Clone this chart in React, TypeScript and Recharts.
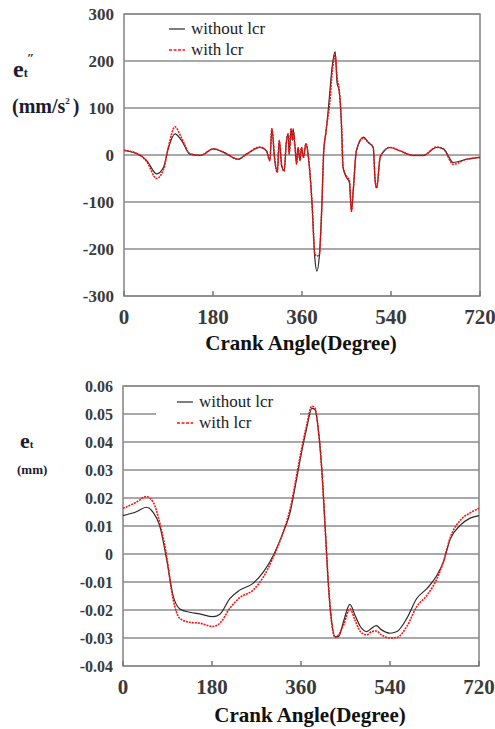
import {
  CartesianGrid,
  Legend,
  Line,
  LineChart,
  ReferenceArea,
  XAxis,
  YAxis,
} from "recharts";

const angleTicks = [0, 180, 360, 540, 720];
const accelTicks = [-300, -200, -100, 0, 100, 200, 300];
const dispTicks = [-0.04, -0.03, -0.02, -0.01, 0, 0.01, 0.02, 0.03, 0.04, 0.05, 0.06];

const accelAngles = [
  0, 32, 46, 66, 80, 90, 103, 117, 133, 154, 181, 201, 231, 248, 275, 288,
  295, 299, 305, 310, 314, 319, 324, 328, 332, 334, 338, 341, 342, 346, 349,
  352, 356, 359, 363, 368, 373, 380, 386, 390, 395, 400, 404, 408, 413, 416,
  421, 427, 431, 435, 440, 443, 450, 456, 460, 464, 470, 484, 494, 504, 508,
  511, 518, 524, 538, 558, 585, 605, 632, 646, 666, 693, 720,
];
const accelWithout = [
  10, 0, -12, -40, -26, 16, 45, 30, 2, -1, 13, 6, -9, 2, 16, 9,
  -12, 56, -12, -37, 31, -23, -34, 24, 45, 2, 56, 31, 56, 16, -19,
  16, -12, 16, -5, 24, -5, -98, -220, -247, -216, -112, 9, 45, 95, 131,
  188, 220, 153, 138, 60, -26, -48, -59, -120, -70, 9, 38, 27, 16, -55,
  -70, -5, 6, 16, 9, -1, -1, 16, 13, -16, -9, -5,
];
const accelWith = [
  10, 0, -14, -50, -30, 18, 60, 35, 3, -1, 13, 6, -9, 2, 17, 9,
  -12, 56, -12, -37, 31, -23, -34, 24, 45, 2, 56, 31, 50, 16, -19,
  16, -12, 16, -5, 24, -5, -98, -210, -215, -212, -112, 9, 45, 85, 110,
  175, 212, 165, 140, 60, -26, -45, -55, -120, -70, 9, 36, 27, 16, -55,
  -70, -5, 6, 16, 9, -1, -1, 17, 13, -20, -9, -5,
];

const dispAngles = [
  0, 27, 47, 61, 74, 88, 101, 115, 135, 155, 182, 196, 216, 236, 263, 284,
  304, 324, 338, 351, 361, 371, 382, 388, 395, 402, 409, 415, 422, 429, 436,
  446, 459, 469, 480, 493, 503, 512, 523, 540, 554, 574, 594, 615, 635, 648,
  662, 682, 702, 720,
];
const dispWithout = [
  0.0137, 0.0151, 0.0167, 0.0149, 0.0102, -0.0017, -0.0147, -0.0196, -0.0208,
  -0.0214, -0.0224, -0.0215, -0.0159, -0.0129, -0.0105, -0.0064, -0.0005,
  0.0078, 0.0149, 0.0267, 0.0362, 0.0445, 0.052, 0.0516, 0.0445, 0.0303,
  0.009, -0.0099, -0.0241, -0.0295, -0.0295, -0.0241, -0.018, -0.0218,
  -0.0259, -0.0277, -0.0265, -0.0256, -0.0271, -0.0283, -0.0277, -0.023,
  -0.0159, -0.0123, -0.0076, -0.0028, 0.0054, 0.0102, 0.0128, 0.0137,
];
const dispWith = [
  0.0163, 0.0185, 0.0205, 0.0185, 0.0114, -0.0005, -0.0159, -0.023, -0.0244,
  -0.0247, -0.0259, -0.0247, -0.0194, -0.0156, -0.0129, -0.0082, -0.0011,
  0.0078, 0.0161, 0.0279, 0.0374, 0.0457, 0.0528, 0.0522, 0.0445, 0.0303,
  0.009, -0.0099, -0.0247, -0.0298, -0.0288, -0.0254, -0.0196, -0.0235,
  -0.0277, -0.0289, -0.0277, -0.0275, -0.0289, -0.03, -0.0298, -0.0259,
  -0.0188, -0.0147, -0.0088, -0.0028, 0.006, 0.012, 0.0147, 0.0163,
];

const serif = "Liberation Serif, DejaVu Serif, serif";
const blackLine = "#2a2a2a";
const redLine = "#ff1010";

const accelData = accelAngles.map((angle, i) => ({
  angle,
  without: accelWithout[i],
  with: accelWith[i],
}));

const dispData = dispAngles.map((angle, i) => ({
  angle,
  without: dispWithout[i],
  with: dispWith[i],
}));

function LegendBox({ inset }: { inset: number }) {
  const row = (label: string, color: string, dashed: boolean) => (
    <div style={{ display: "flex", alignItems: "center", height: 21 }}>
      <svg width={16} height={4} style={{ marginRight: 6 }}>
        <line
          x1={0}
          y1={2}
          x2={16}
          y2={2}
          stroke={color}
          strokeWidth={dashed ? 1.6 : 1.2}
          strokeDasharray={dashed ? "3 1.5" : undefined}
        />
      </svg>
      <span style={{ fontFamily: serif, fontSize: 17, color: "#222" }}>{label}</span>
    </div>
  );
  return (
    <div style={{ background: "#fff", paddingLeft: inset, width: 144 - inset }}>
      {row("without lcr", blackLine, false)}
      {row("with lcr", redLine, true)}
    </div>
  );
}

const tickStyle = { fontFamily: serif, fontWeight: 700, fill: "#3a3a3a" };

export default function App() {
  return (
    <div style={{ position: "absolute", left: 0, top: 0, width: 495, height: 729, background: "#fff", fontFamily: serif }}>
      {/* upper chart: acceleration */}
      <div style={{ position: "absolute", left: 0, top: 0 }}>
        <LineChart
          width={495}
          height={360}
          data={accelData}
          margin={{ top: 14, right: 15, bottom: 24, left: 0 }}
          style={{ fontFamily: serif }}
        >
          <CartesianGrid vertical={false} stroke="#555" strokeWidth={1.2} />
          <XAxis
            dataKey="angle"
            type="number"
            domain={[0, 720]}
            ticks={angleTicks}
            interval={0}
            height={40}
            axisLine={false}
            tickSize={-5}
            tickMargin={18}
            tickLine={{ stroke: "#777", strokeWidth: 1.5 }}
            tick={{ ...tickStyle, fontSize: 21 }}
          />
          <YAxis
            type="number"
            domain={[-300, 300]}
            ticks={accelTicks}
            interval={0}
            width={124}
            axisLine={false}
            tickLine={false}
            tickSize={0}
            tickMargin={10}
            tick={{ ...tickStyle, fontSize: 17 }}
          />
          <Line
            type="monotone"
            dataKey="without"
            stroke={blackLine}
            strokeWidth={1.2}
            dot={false}
            isAnimationActive={false}
          />
          <Line
            type="monotone"
            dataKey="with"
            stroke={redLine}
            strokeWidth={1.6}
            strokeDasharray="2 1"
            dot={false}
            isAnimationActive={false}
          />
          <ReferenceArea x1={0} x2={720} y1={-300} y2={300} fill="none" stroke="#8a8a8a" strokeWidth={1.6} />
          <Legend
            layout="vertical"
            align="center"
            verticalAlign="middle"
            wrapperStyle={{ left: 160, top: 18, width: 144 }}
            content={() => <LegendBox inset={9} />}
          />
        </LineChart>
      </div>

      <div style={{ position: "absolute", left: 13, top: 56, fontWeight: 700, color: "#1c1c30" }}>
        <span style={{ fontSize: 24 }}>e</span>
        <span style={{ fontSize: 12 }}>t</span>
        <span style={{ position: "absolute", left: 14, top: -6, fontSize: 13 }}>″</span>
      </div>
      <div style={{ position: "absolute", left: 12, top: 95, fontWeight: 700, fontSize: 20, color: "#1c1c30", whiteSpace: "nowrap" }}>
        (mm/s<span style={{ fontSize: 9, verticalAlign: 9 }}>2</span>
        <span style={{ marginLeft: 3 }}>)</span>
      </div>
      <div style={{ position: "absolute", left: 0, width: 602, top: 331, textAlign: "center", fontWeight: 700, fontSize: 21, color: "#111" }}>
        Crank Angle(Degree)
      </div>

      {/* lower chart: displacement */}
      <div style={{ position: "absolute", left: 0, top: 370 }}>
        <LineChart
          width={495}
          height={359}
          data={dispData}
          margin={{ top: 16, right: 16, bottom: 23, left: 0 }}
          style={{ fontFamily: serif }}
        >
          <CartesianGrid vertical={false} stroke="#555" strokeWidth={1.2} />
          <XAxis
            dataKey="angle"
            type="number"
            domain={[0, 720]}
            ticks={angleTicks}
            interval={0}
            height={40}
            axisLine={false}
            tickSize={-5}
            tickMargin={18}
            tickLine={{ stroke: "#777", strokeWidth: 1.5 }}
            tick={{ ...tickStyle, fontSize: 21 }}
          />
          <YAxis
            type="number"
            domain={[-0.04, 0.06]}
            ticks={dispTicks}
            interval={0}
            width={123}
            axisLine={false}
            tickLine={false}
            tickSize={0}
            tickMargin={10}
            tick={{ ...tickStyle, fontSize: 16 }}
          />
          <Line
            type="monotone"
            dataKey="without"
            stroke={blackLine}
            strokeWidth={1.2}
            dot={false}
            isAnimationActive={false}
          />
          <Line
            type="monotone"
            dataKey="with"
            stroke={redLine}
            strokeWidth={1.6}
            strokeDasharray="2 1"
            dot={false}
            isAnimationActive={false}
          />
          <ReferenceArea x1={0} x2={720} y1={-0.04} y2={0.06} fill="none" stroke="#8a8a8a" strokeWidth={1.6} />
          <Legend
            layout="vertical"
            align="center"
            verticalAlign="middle"
            wrapperStyle={{ left: 156, top: 21, width: 144 }}
            content={() => <LegendBox inset={21} />}
          />
        </LineChart>
      </div>

      <div style={{ position: "absolute", left: 20, top: 428, fontWeight: 700, color: "#1c1c30" }}>
        <span style={{ fontSize: 22 }}>e</span>
        <span style={{ fontSize: 11 }}>t</span>
      </div>
      <div style={{ position: "absolute", left: 17, top: 462, fontWeight: 700, fontSize: 13, color: "#1c1c30" }}>
        (mm)
      </div>
      <div style={{ position: "absolute", left: 0, width: 620, top: 703, textAlign: "center", fontWeight: 700, fontSize: 21, color: "#111" }}>
        Crank Angle(Degree)
      </div>
    </div>
  );
}
